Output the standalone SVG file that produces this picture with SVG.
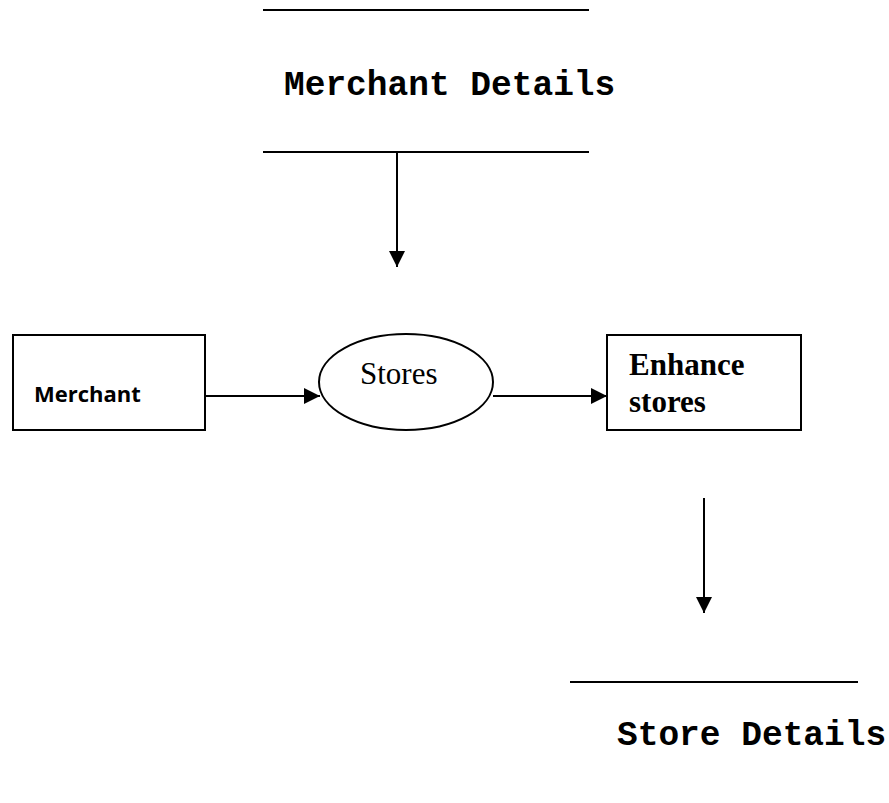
<svg xmlns="http://www.w3.org/2000/svg" width="889" height="803" viewBox="0 0 889 803">
  <style>
    .line { stroke: #000; stroke-width: 2; fill: none; }
    .box { stroke: #000; stroke-width: 2; fill: #fff; }
    .mono { font-family: "Liberation Mono", "Courier New", monospace; font-weight: bold; font-size: 34.5px; fill: #000; }
    .serif { font-family: "Liberation Serif", "Times New Roman", serif; font-size: 31px; fill: #000; }
    .sans { font-family: "Open Sans", "Noto Sans", sans-serif; font-weight: bold; font-size: 22px; fill: #000; }
  </style>
  <defs>
    <marker id="arrow" viewBox="0 0 10 10" refX="10" refY="5" markerWidth="8" markerHeight="8" markerUnits="strokeWidth" orient="auto">
      <path d="M0,0 L10,5 L0,10 Z" fill="#000"/>
    </marker>
  </defs>

  <!-- data store: Merchant Details -->
  <g id="merchant-details">
    <line class="line" x1="263" y1="10" x2="589" y2="10"/>
    <text class="mono" x="284" y="95">Merchant Details</text>
    <line class="line" x1="263" y1="152" x2="589" y2="152"/>
  </g>

  <!-- external entity: Merchant -->
  <g id="merchant">
    <rect class="box" x="13" y="335" width="192" height="95"/>
    <text class="sans" x="34" y="402">Merchant</text>
  </g>

  <!-- process: Stores -->
  <g id="stores">
    <ellipse class="box" cx="406" cy="382" rx="87" ry="48"/>
    <text class="serif" x="360" y="384">Stores</text>
  </g>

  <!-- process: Enhance stores -->
  <g id="enhance-stores">
    <rect class="box" x="607" y="335" width="194" height="95"/>
    <text class="serif" font-weight="bold" x="629" y="375">Enhance</text>
    <text class="serif" font-weight="bold" x="629" y="412">stores</text>
  </g>

  <!-- data store: Store Details -->
  <g id="store-details">
    <line class="line" x1="570" y1="682" x2="858" y2="682"/>
    <text class="mono" x="617" y="745">Store Details</text>
  </g>

  <!-- connectors -->
  <g id="connectors">
    <line class="line" x1="397" y1="152" x2="397" y2="267" marker-end="url(#arrow)"/>
    <line class="line" x1="205" y1="396" x2="320" y2="396" marker-end="url(#arrow)"/>
    <line class="line" x1="493" y1="396" x2="607" y2="396" marker-end="url(#arrow)"/>
    <line class="line" x1="704" y1="498" x2="704" y2="613" marker-end="url(#arrow)"/>
  </g>
</svg>
